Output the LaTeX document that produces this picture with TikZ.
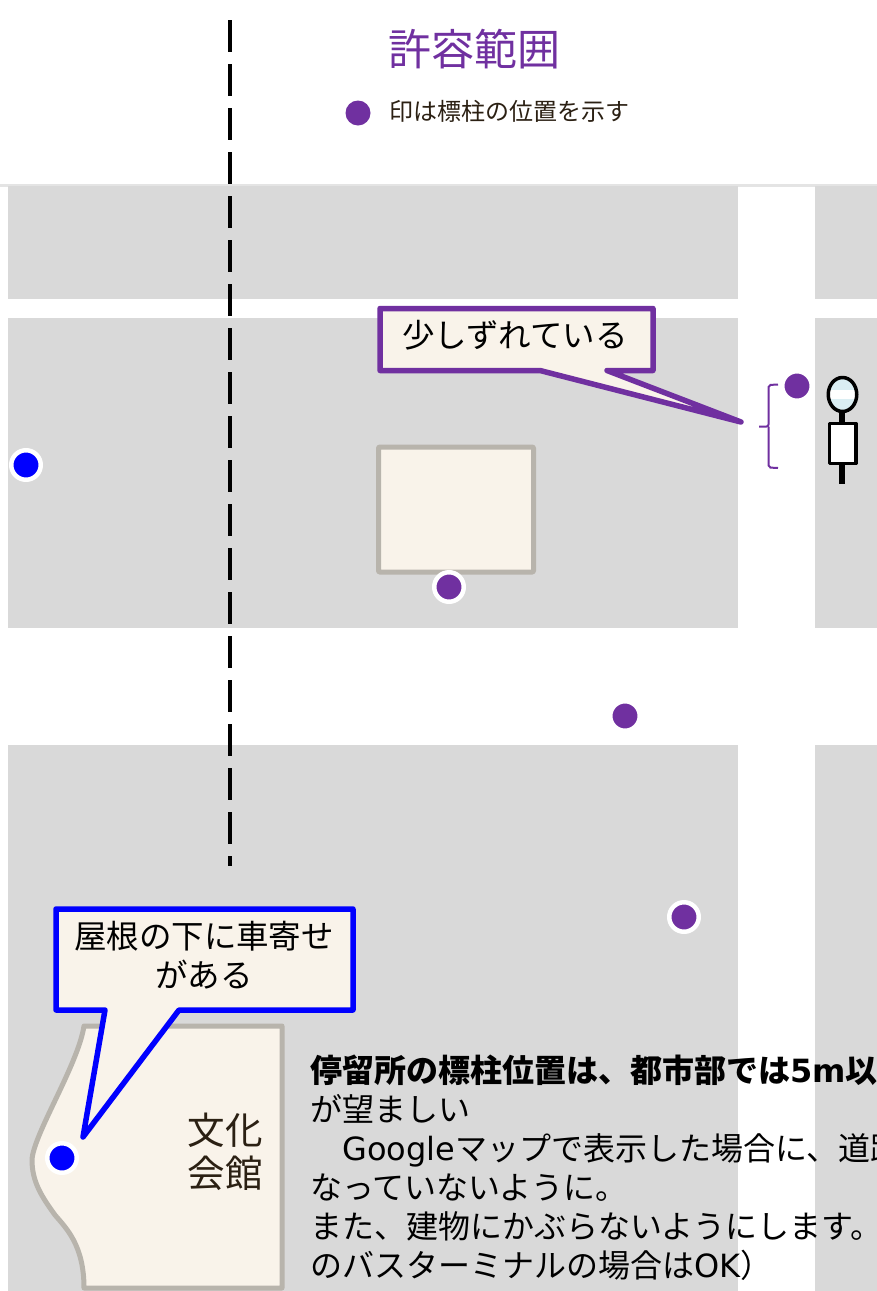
\documentclass[tikz,border=0pt]{standalone}
\usepackage{fontspec}
\setmainfont{Noto Sans CJK JP}
\newfontfamily\latinfont{DejaVu Sans}
\usetikzlibrary{positioning, shapes.geometric}

\definecolor{roadgray}{HTML}{D9D9D9}
\definecolor{buildfill}{HTML}{F9F3EA}
\definecolor{buildline}{HTML}{B8B4AC}
\definecolor{stoppurple}{HTML}{7030A0}
\definecolor{stopblue}{HTML}{0000FF}
\definecolor{darktext}{HTML}{2B2013}
\definecolor{signblue}{HTML}{DAEEF3}

\begin{document}
\begin{tikzpicture}[
    x=1pt, y=-1pt,
    block/.style = {fill=roadgray, draw=none},
    building/.style = {fill=buildfill, draw=buildline, line width=5pt, line join=round},
    callout/.style = {fill=buildfill, line width=5.5pt, line join=round},
    label/.style = {inner sep=0pt, font=\fontsize{32.5}{39}\selectfont, align=center},
    stopdot/.style = {circle, inner sep=0pt, minimum size=29.5pt, fill=#1, draw=white, line width=4.5pt},
    signline/.style = {draw=black, line width=3.5pt, line join=round}
  ]
  \useasboundingbox (0,0) rectangle (877,1291);

  % Blocks between the roads
  \fill[white] (0,0) rectangle (877,1291);
  \fill[roadgray!70] (0,184) rectangle (877,187);
  \fill[block] (8,186) rectangle (738,299);
  \fill[block] (815,186) rectangle (877,299);
  \fill[block] (8,318) rectangle (738,628);
  \fill[block] (815,318) rectangle (877,628);
  \fill[block] (8,745) rectangle (738,1291);
  \fill[block] (815,745) rectangle (877,1291);

  % Dashed line
  \coordinate (linetop) at (230,20);
  \coordinate (linebottom) at (230,866);
  \draw[black, line width=4pt, dash pattern=on 32pt off 12pt] (linetop) -- (linebottom);

  % Title and legend
  \node[label, text=stoppurple, font=\fontsize{43}{50}\selectfont] (title) at (474,49) {許容範囲};
  \node[circle, fill=stoppurple, inner sep=0pt, minimum size=25pt] (legenddot) at (358,113) {};
  \node[label, text=darktext, font=\fontsize{24}{29}\selectfont, anchor=west] (legendtext) at (389,111) {印は標柱の位置を示す};

  % Square building
  \node[building, rounded corners=1pt, minimum width=155pt, minimum height=125pt] (square) at (456,509.5) {};

  % Cultural hall
  \draw[building, fill=buildfill] (84,1026) -- (282,1026) -- (282,1288) -- (84,1288)
    .. controls (84,1245) and (66,1228) .. (55,1215)
    .. controls (42,1197) and (32,1182) .. (32,1160)
    .. controls (33,1135) and (78,1065) .. (84,1026) -- cycle;
  \node[label, text=darktext, font=\fontsize{37.5}{43}\selectfont] (hall) at (225,1152) {文化\\会館};

  % Stops
  \node[stopdot=stoppurple] (stopa) at (797,386) {};
  \node[stopdot=stopblue] (stopb) at (26,465) {};
  \node[stopdot=stoppurple] (stopc) at (449,587) {};
  \node[stopdot=stoppurple] (stopd) at (625,716) {};
  \node[stopdot=stoppurple] (stope) at (684,917) {};
  \node[stopdot=stopblue] (stopf) at (62,1158) {};

  % Brace next to the sign
  \draw[stoppurple, line width=2pt, rounded corners=2pt]
    (778,384.5) -- (768.5,385) -- (768.5,426.5) -- (759,426.5);
  \draw[stoppurple, line width=2pt, rounded corners=2pt]
    (778,468) -- (768.5,467.5) -- (768.5,426.5);

  % Bus stop sign
  \draw[black, line width=6pt] (842,410) -- (842,423);
  \draw[black, line width=6pt] (842,464) -- (842,484);
  \node[signline, fill=white, minimum width=26.5pt, minimum height=40pt, inner sep=0pt] (signbody) at (842.5,443.5) {};
  \node[signline, ellipse, fill=signblue, minimum width=28.5pt, minimum height=34pt, inner sep=0pt, path picture={
      \fill[white] ([xshift=-20pt,yshift=-4.5pt]path picture bounding box.center) rectangle ++(40pt,9pt);
    }] (signhead) at (842.5,394.5) {};

  % Callout near the sign
  \draw[callout, draw=stoppurple] (380,308.5) -- (653,308.5) -- (653,370.5) -- (607,370.5) -- (741,422)
    -- (540,370.5) -- (380,370.5) -- cycle;
  \node[label, text=black] (zuretext) at (515,335) {少しずれている};

  % Callout at the hall
  \draw[callout, draw=stopblue] (56,909) -- (353,909) -- (353,1010) -- (179,1010) -- (83,1137)
    -- (105,1010) -- (56,1010) -- cycle;
  \node[label, text=black] (roofnote) at (204,955) {屋根の下に車寄せ\\がある};

  % Note
  \node[label, text=black, align=left, anchor=north west, font=\fontsize{32}{39}\selectfont] (note) at (310,1054.5)
    {\textbf{停留所の標柱位置は、都市部では{\latinfont 5m}以}\\
     が望ましい\\
     　{\latinfont Google}マップで表示した場合に、道路\\
     なっていないように。\\
     また、建物にかぶらないようにします。\\
     のバスターミナルの場合は{\latinfont OK}）};
\end{tikzpicture}
\end{document}
